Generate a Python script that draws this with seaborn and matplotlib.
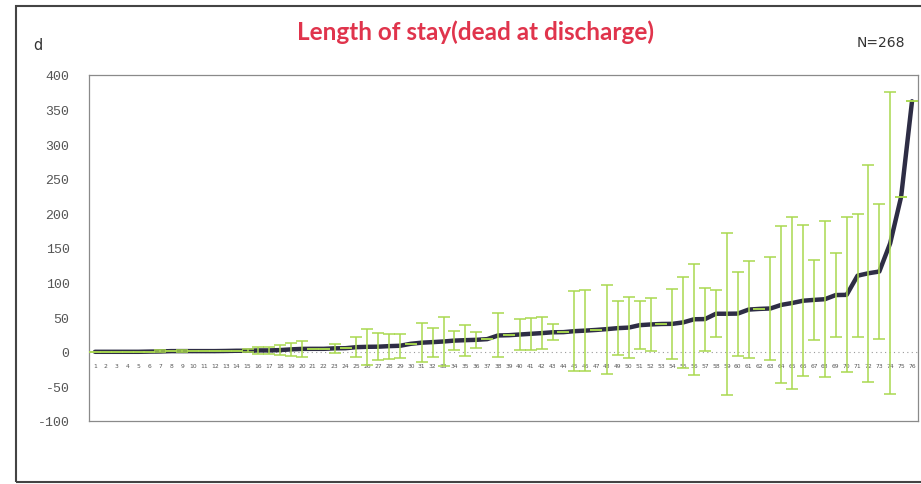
import numpy as np
import pandas as pd
import matplotlib
matplotlib.use("Agg")
import matplotlib.pyplot as plt
import seaborn as sns
from matplotlib.patches import Rectangle

# category numbers 1..76 (sorted by mean length of stay)
categories = list(range(1, 77))

# mean length of stay (days)
mean_los = [0, 0, 0, 0, 0, 0.3, 0.5, 1, 1, 1,
            1, 1, 1.2, 1.5, 1.5, 2, 2, 2.5, 3.5, 4.2,
            4.3, 4.3, 5, 5.2, 6.7, 7.2, 7.4, 8.2, 8.7, 11.6,
            13.2, 14, 14.9, 16.2, 16.8, 17.3, 18.3, 23.6, 24, 25,
            26, 27, 28.2, 28.4, 29.8, 30.6, 31.6, 32.8, 34.2, 35,
            38.5, 39.5, 40.2, 40.4, 42.5, 47, 47.3, 55, 55, 55.2,
            61, 62, 62.6, 67.8, 70.5, 73.8, 75, 76, 82, 82.3,
            110, 113.5, 116, 157, 224, 362]

# standard deviation (half length of the green error bars)
sd_los = [0, 0, 0, 0, 0, 0, 1.5, 0, 1.5, 0,
          0, 0, 0, 0, 2, 5, 5, 7, 9, 11.5,
          0, 0, 6.8, 0, 14.7, 25.7, 19.3, 18, 17.6, 0,
          28.4, 21, 35.8, 14, 22.4, 12, 0, 31.8, 0, 22.8,
          23.4, 22.6, 11.6, 0, 58.2, 59, 0, 64.3, 38.8, 44,
          35, 37.8, 0, 50.5, 66, 80, 45.5, 33.7, 117, 60.6,
          70, 0, 74.6, 113.5, 124, 109, 58, 113, 61, 112,
          89, 157, 97, 218, 0, 0]

yticks = [-100, -50, 0, 50, 100, 150, 200, 250, 300, 350, 400]

df = pd.DataFrame({"cat": categories, "mean": mean_los, "sd": sd_los})

sns.set_style("white")
fig = plt.figure(figsize=(9.21, 4.85), dpi=100)
ax = fig.add_axes([89 / 921, 1 - 422 / 485, (918 - 89) / 921, (422 - 76) / 485])

# mean line
sns.lineplot(data=df, x="cat", y="mean", ax=ax, color="#2e2d45", linewidth=3.2, zorder=2)

# error bars
ax.errorbar(df["cat"], df["mean"], yerr=df["sd"], fmt="none", ecolor="#a9d94f",
            elinewidth=1.1, capsize=4, capthick=1.1, zorder=3)

# zero line (category axis)
ax.axhline(0, color="#9a9a9a", linestyle=(0, (1, 3)), linewidth=0.8, zorder=1)

ax.set_xlim(0.45, 76.55)
ax.set_ylim(-100, 400)
ax.set_yticks(yticks)
ax.set_yticklabels([str(t) for t in yticks], family="Liberation Mono", fontsize=9.5, color="#555555")
ax.tick_params(axis="y", length=0, pad=14)
ax.set_xticks([])
ax.set_xlabel("")
ax.set_ylabel("")
for s in ax.spines.values():
    s.set_color("#8a8a8a")
    s.set_linewidth(0.9)

# category labels sitting just below the zero line
sec = ax.secondary_xaxis(100 / 500)
sec.set_xticks(categories)
sec.set_xticklabels([str(c) for c in categories], fontsize=4.3, color="#555555")
sec.tick_params(length=0, pad=8)
sec.spines["bottom"].set_visible(False)

# texts
fig.text(0.516, 0.934, "Length of stay(dead at discharge)", ha="center", va="center",
         fontsize=17.5, fontweight="bold", color="#e0344c", family="Lato")
fig.text(0.041, 0.907, "d", ha="center", va="center", fontsize=10.5, color="#333333")
fig.text(0.983, 0.911, "N=268", ha="right", va="center", fontsize=10, color="#333333")

# outer frame
fig.patches.append(Rectangle((16 / 921, 2 / 485), 1.0, 476 / 485, transform=fig.transFigure,
                             fill=False, edgecolor="#444444", linewidth=1.5))

fig.savefig("out.png", dpi=100)
